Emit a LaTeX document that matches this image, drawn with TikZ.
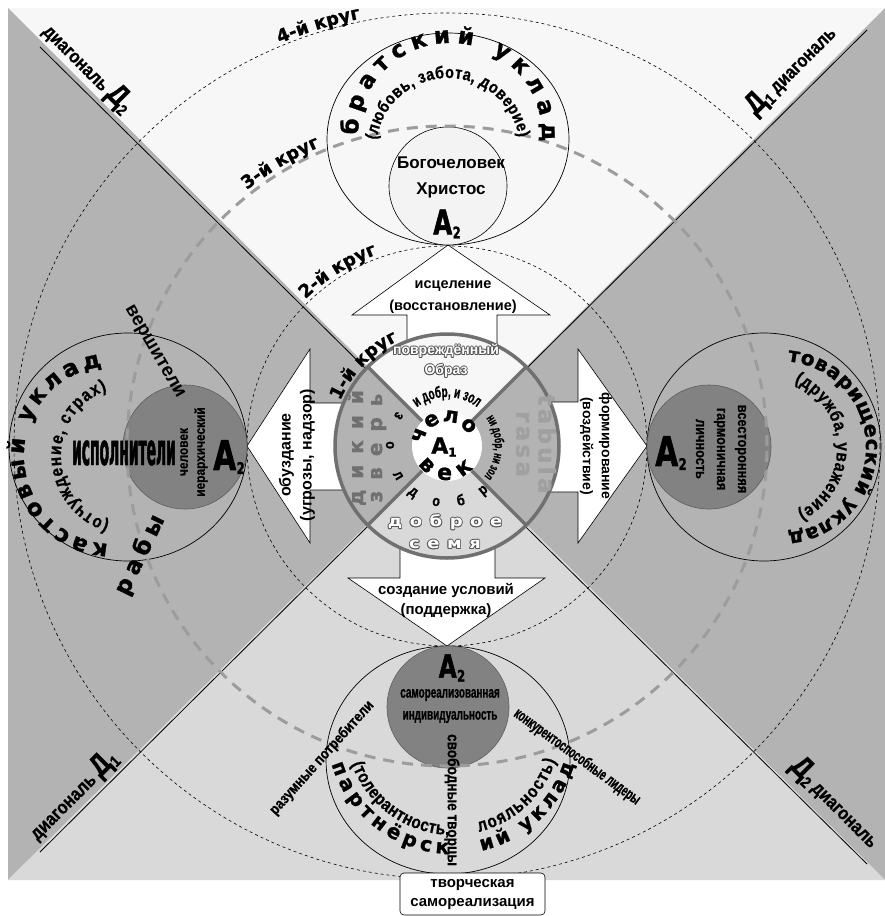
\documentclass[tikz,border=0pt]{standalone}
\usepackage{fontspec}
\setmainfont{Liberation Sans}
\newfontfamily\nrw{Liberation Sans}[FakeStretch=0.85,FakeBold=0.8]
\newfontfamily\xnrw{Liberation Sans}[FakeStretch=0.62,FakeBold=0.8]
\newfontfamily\tall{DejaVu Sans}[FakeStretch=0.315,FakeBold=1]
\newfontfamily\afont{DejaVu Sans}[FakeStretch=0.72,FakeBold=1.5]
\newfontfamily\hvy{DejaVu Sans}[FakeBold=1.2]
\newfontfamily\wde{DejaVu Sans}[FakeStretch=1.2]
\usetikzlibrary{calc,decorations.text}
\definecolor{qtop}{HTML}{F7F7F7}
\definecolor{qside}{HTML}{B3B3B3}
\definecolor{qbot}{HTML}{D9D9D9}
\definecolor{ring}{HTML}{707070}
\definecolor{grd}{HTML}{9C9C9C}
\definecolor{core}{HTML}{828282}
\definecolor{coreline}{HTML}{5E5E5E}
\definecolor{light}{HTML}{F3F3F3}
\definecolor{olc}{HTML}{555555}
\definecolor{tabc}{HTML}{A0A0A0}
\newcommand\fs[1]{\fontsize{#1}{#1}\selectfont}
\newcommand\ix[1]{\kern.5pt\raisebox{-4pt}{\fs{16}#1}}
\newcommand\bigD{{\fs{30}Д}}
% white letters with a dark rim
\newcommand\outl[1]{{\setbox0\hbox{#1}%
\rlap{\color{olc}\kern.9pt\copy0}\rlap{\color{olc}\kern-.9pt\copy0}%
\rlap{\color{olc}\raise.9pt\copy0}\rlap{\color{olc}\lower.9pt\copy0}%
\rlap{\color{olc}\kern.65pt\raise.65pt\copy0}\rlap{\color{olc}\kern-.65pt\raise.65pt\copy0}%
\rlap{\color{olc}\kern.65pt\lower.65pt\copy0}\rlap{\color{olc}\kern-.65pt\lower.65pt\copy0}%
\color{white}\copy0}}
\begin{document}
\begin{tikzpicture}[x=1pt,y=1pt,
 lbl/.style={inner sep=0pt,align=center},
 arw/.style={draw,fill=white,line width=.6pt},
 oval/.style={draw,line width=.7pt},
 core/.style={draw=coreline,fill=core,line width=.6pt},
 krug/.style={draw,dash pattern=on 3pt off 3pt,line width=.6pt},
 krug3/.style={draw=grd,dash pattern=on 11pt off 8pt,line width=3pt},
 arctext/.style={decorate,decoration={text along path,text align=center,text={#1}}},
 arcfit/.style={decorate,decoration={text along path,text align={fit to path},text={#1}}}]
\useasboundingbox (0,0) rectangle (885,-916);
\coordinate (C) at (447,-446);
\coordinate (tl) at (8,-8);
\coordinate (tr) at (885,-8);
\coordinate (br) at (885,-880);
\coordinate (bl) at (8,-880);
% four sectors
\foreach \a/\b/\c in {tl/tr/qtop,tl/bl/qside,tr/br/qside,bl/br/qbot}
 \fill[\c] (\a) -- (\b) -- (C) -- cycle;
% diagonals
\coordinate (d1a) at (40,-852);
\coordinate (d1b) at (867,-30);
\coordinate (d2a) at (40,-47);
\coordinate (d2b) at (867,-864);
\draw[line width=.8pt] (d1a) -- (d1b);
\draw[line width=.8pt] (d2a) -- (d2b);
\draw[krug] (C) circle (433);
\draw[krug] (C) circle (200);
% arrows
\draw[arw] (448,-245) -- (550,-315) -- (497,-315) -- (497,-350) -- (407,-350) -- (407,-315) -- (352,-315) -- cycle;
\draw[arw] (247,-446) -- (310,-349) -- (310,-403) -- (350,-403) -- (350,-490) -- (310,-490) -- (310,-543) -- cycle;
\draw[arw] (647,-446) -- (578,-349) -- (578,-402) -- (540,-402) -- (540,-492) -- (578,-492) -- (578,-543) -- cycle;
\draw[arw] (447,-646) -- (545,-578) -- (495,-578) -- (495,-540) -- (400,-540) -- (400,-578) -- (348,-578) -- cycle;
% 1st circle
\begin{scope}
\clip (C) circle (112);
\foreach \a/\b/\c in {tl/tr/qtop,tl/bl/qside,tr/br/qside,bl/br/qbot}
 \fill[\c] (\a) -- (\b) -- (C) -- cycle;
\end{scope}
\foreach \a in {45,135,225,315}
 \draw[ring,line width=3.5pt] (C) -- ($(C)+(\a:112)$);
\draw[ring,line width=3.5pt] (C) circle (112);
\fill[white] (C) circle (35);
% A2 circles
\coordinate (T) at (448,-139);
\coordinate (Tc) at (448,-186);
\coordinate (L) at (128,-447);
\coordinate (Lc) at (185,-447);
\coordinate (R) at (764,-447);
\coordinate (Rc) at (709,-447);
\coordinate (B) at (448,-760);
\coordinate (Bc) at (448,-707);
\draw[oval] (T) ellipse [x radius=121,y radius=106];
\draw[oval] (L) ellipse [x radius=119,y radius=114];
\draw[oval] (R) ellipse [x radius=117,y radius=114];
\draw[oval] (B) ellipse [x radius=122,y radius=114];
\filldraw[draw=black,fill=light,line width=.6pt] (Tc) circle (59);
\draw[core] (Lc) circle (62);
\draw[core] (Rc) circle (62);
\draw[core] (Bc) circle (61);
\draw[krug3] (C) circle (320);
% circle names
\path[arctext={|\hvy\bfseries\fs{18}|1-й круг}] ($(C)+(170:116)$) arc[start angle=170,end angle=102,radius=116];
\path[arctext={|\hvy\bfseries\fs{18}|2-й круг}] ($(C)+(140:204)$) arc[start angle=140,end angle=104,radius=204];
\path[arctext={|\hvy\bfseries\fs{18}|3-й круг}] ($(C)+(131:325)$) arc[start angle=131,end angle=110,radius=325];
\path[arctext={|\hvy\bfseries\fs{18}|4-й круг}] ($(C)+(117:436)$) arc[start angle=117,end angle=97,radius=436];
% diagonal names
\node[lbl,rotate=-45,font=\nrw\bfseries\fs{19}] (dtl) at (88,-68) {диагональ \bigD\ix{2}};
\node[lbl,rotate=45,font=\nrw\bfseries\fs{19}] (dtr) at (791,-70) {\bigD\ix{1} диагональ};
\node[lbl,rotate=45,font=\nrw\bfseries\fs{19}] (dbl) at (73,-795) {диагональ \bigD\ix{1}};
\node[lbl,rotate=-45,font=\nrw\bfseries\fs{19}] (dbr) at (835,-803) {\bigD\ix{2} диагональ};
% core
\node[lbl,font=\hvy\bfseries\fs{22}] (a1) at (444,-447) {A\raisebox{-3pt}{\fs{12}1}};
\path[arcfit={|\hvy\bfseries\fs{21}|чело}] ($(C)+(176:24)$) arc[start angle=176,end angle=26,radius=24];
\path[arcfit={|\hvy\bfseries\fs{22}|век}] ($(C)+(212:34)$) arc[start angle=212,end angle=320,radius=34];
\path[arctext={|\xnrw\bfseries\fs{16}|и добр, и зол}] ($(C)+(134:49)$) arc[start angle=134,end angle=46,radius=49];
\path[arctext={|\xnrw\bfseries\fs{13}|ни добр, ни зол}] ($(C)+(40:48)$) arc[start angle=40,end angle=-44,radius=48];
\path[arcfit={|\nrw\bfseries\fs{15}|зол}] ($(C)+(145:61)$) arc[start angle=145,end angle=215,radius=61];
\path[arcfit={|\nrw\bfseries\fs{15}|добр}] ($(C)+(230:61)$) arc[start angle=230,end angle=313,radius=61];
\node[lbl,font=\bfseries\fontsize{14}{20}\selectfont] (img) at (446,-361) {\outl{повреждённый}\\\outl{Образ}};
\node[lbl,font=\wde\bfseries\fontsize{15}{22}\selectfont\addfontfeature{LetterSpace=50}] (seed) at (445,-532) {\outl{доброе}\\\outl{семя}};
\node[lbl,rotate=90,text=ring,font=\hvy\bfseries\fontsize{20}{19}\selectfont\addfontfeature{LetterSpace=55}] (beast) at (367,-448) {дикий\\зверь};
\node[lbl,rotate=-90,text=tabc,font=\hvy\bfseries\fontsize{23}{22}\selectfont\addfontfeature{LetterSpace=14}] (tab) at (536,-444) {tabula\\rasa};
% arrows text
\node[lbl,font=\bfseries\fontsize{14.5}{22}\selectfont] (heal) at (453,-297) {исцеление\\(восстановление)};
\node[lbl,rotate=90,font=\bfseries\fontsize{16}{21}\selectfont] (curb) at (297,-455) {обуздание\\(угрозы, надзор)};
\node[lbl,rotate=-90,font=\bfseries\fontsize{14}{19}\selectfont] (form) at (596,-446) {формирование\\(воздействие)};
\node[lbl,font=\bfseries\fontsize{15}{20}\selectfont] (cond) at (446,-600) {создание условий\\(поддержка)};
% top
\node[lbl,font=\bfseries\fontsize{17}{26}\selectfont] (god) at (451,-177) {Богочеловек\\Христос};
\node[lbl,font=\afont\bfseries\fs{34}] (a2t) at (447,-224) {A\ix{2}};
\path[arcfit={|\hvy\bfseries\fs{23}|братский уклад}] ($(450,-135)+(180:92)$) arc[start angle=180,end angle=-4,radius=92];
\path[arcfit={|\nrw\bfseries\fs{17}|(любовь, забота, доверие)}] ($(448,-150)+(172:72)$) arc[start angle=172,end angle=10,radius=72];
% left
\node[lbl,font=\tall\bfseries\fs{44}] (exec) at (124,-453) {исполнители};
\node[lbl,rotate=90,font=\nrw\bfseries\fontsize{14}{17}\selectfont] (hier) at (194,-452) {человек\\иерархический};
\node[lbl,font=\afont\bfseries\fs{41}] (a2l) at (229,-457) {A\ix{2}};
\node[lbl,rotate=-60,font=\bfseries\fs{19}] (rul) at (154,-352) {вершители};
\node[lbl,rotate=64,font=\hvy\bfseries\fs{23}\addfontfeature{LetterSpace=25}] (slv) at (140,-555) {рабы};
\path[arcfit={|\hvy\bfseries\fs{23}|кастовый уклад}] ($(113,-455)+(267:89)$) arc[start angle=267,end angle=97,radius=89];
\path[arcfit={|\nrw\bfseries\fs{18}|(отчуждение, страх)}] ($(131,-456)+(252:70)$) arc[start angle=252,end angle=110,radius=70];
% right
\node[lbl,font=\afont\bfseries\fs{41}] (a2r) at (671,-453) {A\ix{2}};
\node[lbl,rotate=-90,font=\nrw\bfseries\fontsize{15}{21}\selectfont] (harm) at (721,-449) {всесторонняя\\гармоничная\\личность};
\path[arcfit={|\hvy\bfseries\fs{20}|товарищеский уклад}] ($(780,-447)+(85:86)$) arc[start angle=85,end angle=-85,radius=86];
\path[arcfit={|\nrw\bfseries\fs{18}|(дружба, уважение)}] ($(765,-448)+(66:72)$) arc[start angle=66,end angle=-63,radius=72];
% bottom
\node[lbl,font=\afont\bfseries\fs{32}] (a2b) at (452,-668) {A\ix{2}};
\node[lbl,font=\xnrw\bfseries\fontsize{16}{22}\selectfont] (self) at (450,-706) {самореализованная\\индивидуальность};
\node[lbl,rotate=-90,font=\nrw\bfseries\fs{16}] (free) at (452,-800) {свободные творцы};
\node[lbl,rotate=48,font=\nrw\bfseries\fs{15}] (cons) at (322,-758) {разумные потребители};
\node[lbl,rotate=-36,font=\xnrw\bfseries\fs{16}] (lead) at (577,-757) {конкурентоспособные лидеры};
\path[arcfit={|\hvy\bfseries\fs{20}|партнёрск}] ($(453,-727)+(197:127)$) arc[start angle=197,end angle=268,radius=127];
\path[arcfit={|\hvy\bfseries\fs{20}|ий уклад}] ($(453,-727)+(283:127)$) arc[start angle=283,end angle=343,radius=127];
\path[arcfit={|\nrw\bfseries\fs{18}|(толерантность,}] ($(453,-727)+(200:108)$) arc[start angle=200,end angle=268,radius=108];
\path[arcfit={|\nrw\bfseries\fs{18}|лояльность)}] ($(453,-727)+(284:108)$) arc[start angle=284,end angle=342,radius=108];
\node[lbl,draw,fill=white,rounded corners=4pt,line width=.6pt,minimum width=145pt,minimum height=42pt,font=\bfseries\fontsize{15}{19}\selectfont] (crea) at (472.5,-894) {творческая\\самореализация};
\end{tikzpicture}
\end{document}
